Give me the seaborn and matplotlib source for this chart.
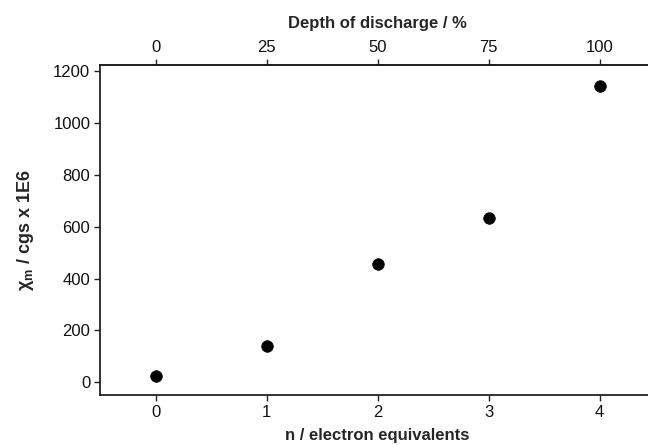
import matplotlib
matplotlib.use("Agg")
import matplotlib.pyplot as plt
import seaborn as sns
import pandas as pd

n_equiv = [0, 1, 2, 3, 4]
chi_m = [25, 140, 455, 632, 1145]
y_ticks = [0, 200, 400, 600, 800, 1000, 1200]
x_ticks = [0, 1, 2, 3, 4]
dod_ticks = [0, 25, 50, 75, 100]

sns.set_style("white")
plt.rcParams['font.family'] = ['Liberation Sans Narrow', 'Liberation Sans', 'DejaVu Sans']

df = pd.DataFrame({"n": n_equiv, "chi": chi_m})

fig = plt.figure(figsize=(6.48, 4.45), dpi=100)
ax = fig.add_axes([100/648, 50/445, 555/648, 330/445])
sns.scatterplot(data=df, x="n", y="chi", ax=ax, color="black", s=70,
                edgecolor="black", linewidth=0.5, zorder=3)

ax.set_xlim(-0.5, 4.5)
ax.set_ylim(-50, 1225)
ax.set_xticks(x_ticks)
ax.set_yticks(y_ticks)
ax.tick_params(axis="both", direction="out", length=4, width=1, labelsize=12,
               color="#222222", labelcolor="#111111", pad=3,
               bottom=True, left=True, top=False, right=False)
for side in ["left", "bottom", "top"]:
    ax.spines[side].set_visible(True)
    ax.spines[side].set_color("#222222")
    ax.spines[side].set_linewidth(1.3)
ax.spines["right"].set_visible(False)

ax.set_xlabel("n / electron equivalents", fontsize=12, fontweight="bold",
              family=['Liberation Sans', 'DejaVu Sans'], labelpad=6)
ax.set_ylabel("χ$_\\mathregular{m}$ / cgs x 1E6", fontsize=13, fontweight="bold",
              family=['Liberation Sans', 'DejaVu Sans'], labelpad=12)

secax = ax.secondary_xaxis("top", functions=(lambda v: v * 25, lambda v: v / 25))
secax.set_xticks(dod_ticks)
secax.tick_params(axis="x", direction="out", length=4, width=1, labelsize=12,
                  color="#222222", labelcolor="#111111", pad=3, top=True)
secax.spines["top"].set_linewidth(1.3)
secax.spines["top"].set_color("#222222")
secax.set_xlabel("Depth of discharge / %", fontsize=12, fontweight="bold",
                 family=['Liberation Sans', 'DejaVu Sans'], labelpad=9)

fig.savefig("out.png", dpi=100)
